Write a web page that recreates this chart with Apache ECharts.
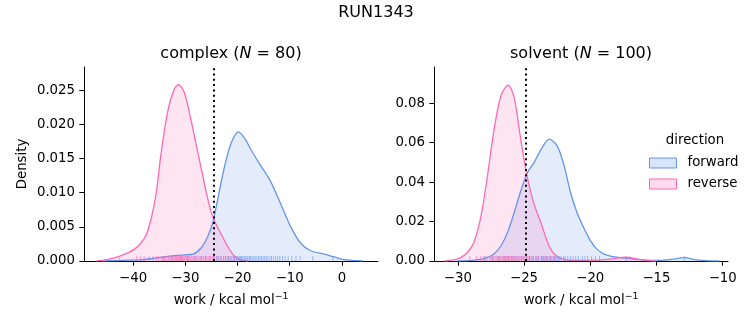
<!DOCTYPE html>
<html><head><meta charset="utf-8">
<script src="https://cdn.jsdelivr.net/npm/echarts@6/dist/echarts.min.js"></script>
<style>html,body{margin:0;padding:0;background:#fff}#c{width:753px;height:325px}</style>
</head><body><div id="c"></div>
<script>
// ---- data ----
const directions = ['forward', 'reverse'];
const complexTicksX = [-40, -30, -20, -10, 0];
const complexTicksY = [0, 0.005, 0.010, 0.015, 0.020, 0.025];
const solventTicksX = [-30, -25, -20, -15, -10];
const solventTicksY = [0, 0.02, 0.04, 0.06, 0.08];

const complexForwardKde = [[-46,0],[-42,0.0001],[-38,0.0002],[-36,0.0004],[-34,0.0006],[-32,0.0008],[-30,0.0009],[-28.5,0.0010],[-27,0.0019],[-25.7,0.0036],[-24.75,0.0056],[-23.8,0.0090],[-22.5,0.0138],[-21.2,0.0173],[-19.8,0.0189],[-18.5,0.0178],[-17.5,0.0164],[-15.6,0.0140],[-13.7,0.0117],[-11.7,0.0083],[-9.8,0.0050],[-7.9,0.0026],[-6,0.0015],[-3.4,0.0010],[-1.5,0.0006],[0.4,0.0002],[2,0.0001],[4,0]];
const complexReverseKde = [[-47,0],[-45,0.0002],[-43,0.0006],[-41,0.0012],[-39.8,0.0017],[-38.5,0.0026],[-37.5,0.0038],[-36.6,0.0060],[-35.6,0.0098],[-34.7,0.0154],[-33.4,0.0218],[-32.1,0.0252],[-31.3,0.0258],[-30.2,0.0247],[-28.9,0.0206],[-27.6,0.0159],[-26.3,0.0112],[-25.1,0.0073],[-24.1,0.0054],[-23.3,0.0042],[-22,0.0023],[-20.7,0.0008],[-19.5,0.0002],[-18,0]];
const solventForwardKde = [[-30,0],[-29,0.0003],[-28,0.0012],[-27.3,0.0034],[-26.75,0.0076],[-26.25,0.0144],[-25.75,0.0245],[-25.25,0.0355],[-24.75,0.0448],[-24.25,0.0499],[-23.7,0.0567],[-23.1,0.0618],[-22.5,0.0584],[-22,0.0490],[-21.5,0.0350],[-21,0.0245],[-20.5,0.0170],[-20,0.0105],[-19.5,0.0060],[-19,0.0036],[-18.3,0.0022],[-17.25,0.0014],[-16,0.0006],[-14.7,0.0003],[-13.8,0.0009],[-12.9,0.0017],[-12,0.0006],[-11,0.0001],[-10.3,0]];
const solventReverseKde = [[-31,0],[-30.3,0.0006],[-29.8,0.0017],[-29.3,0.0042],[-28.8,0.0093],[-28.3,0.0212],[-27.8,0.0415],[-27.3,0.0651],[-26.75,0.0838],[-26.2,0.0892],[-25.75,0.0829],[-25.25,0.0618],[-24.75,0.0423],[-24.25,0.0290],[-23.7,0.0190],[-23.2,0.0090],[-22.7,0.0034],[-22,0.0008],[-21,0.0003],[-19.5,0.0004],[-18.5,0.0010],[-17.3,0.0019],[-16.3,0.0008],[-15.5,0.0001],[-15,0]];

const complexForwardRug = [-34.2,-32.5,-30.8,-29.5,-28.2,-27.0,-26.1,-25.3,-24.6,-24.0,-23.6,-23.1,-22.7,-22.3,-22.0,-21.7,-21.4,-21.1,-20.8,-20.6,-20.3,-20.1,-19.9,-19.6,-19.4,-19.2,-19.0,-18.7,-18.5,-18.2,-18.0,-17.7,-17.5,-17.2,-16.9,-16.6,-16.3,-16.0,-15.7,-15.4,-15.1,-14.8,-14.5,-14.2,-13.8,-13.5,-13.1,-12.7,-12.3,-11.9,-11.4,-10.9,-10.3,-9.6,-8.8,-8.0,-5.6,-1.7];
const complexReverseRug = [-42.6,-39.3,-38.6,-37.9,-36.9,-36.2,-35.5,-35.1,-34.6,-34.3,-34.0,-33.7,-33.5,-33.2,-33.0,-32.8,-32.6,-32.4,-32.2,-32.0,-31.9,-31.7,-31.6,-31.4,-31.3,-31.1,-31.0,-30.9,-30.7,-30.6,-30.4,-30.3,-30.1,-30.0,-29.8,-29.6,-29.5,-29.3,-29.1,-28.9,-28.7,-28.5,-28.3,-28.0,-27.8,-27.6,-27.3,-27.0,-26.8,-26.5,-26.2,-25.9,-25.6,-25.2,-24.8,-24.4,-23.9,-23.3,-22.6,-21.7,-20.6];
const solventForwardRug = [-28.0,-27.4,-26.9,-26.5,-26.2,-25.9,-25.6,-25.4,-25.2,-25.0,-24.8,-24.6,-24.4,-24.3,-24.1,-24.0,-23.9,-23.7,-23.6,-23.5,-23.4,-23.3,-23.2,-23.1,-23.0,-22.9,-22.8,-22.7,-22.6,-22.5,-22.4,-22.3,-22.2,-22.0,-21.9,-21.7,-21.5,-21.3,-21.1,-20.9,-20.6,-20.4,-20.2,-19.9,-19.6,-19.3,-12.9];
const solventReverseRug = [-29.1,-28.6,-28.3,-28.1,-27.9,-27.8,-27.6,-27.5,-27.4,-27.3,-27.2,-27.1,-27.0,-26.9,-26.85,-26.8,-26.7,-26.6,-26.55,-26.5,-26.4,-26.35,-26.3,-26.2,-26.15,-26.1,-26.0,-25.95,-25.9,-25.8,-25.75,-25.7,-25.6,-25.5,-25.4,-25.3,-25.2,-25.1,-25.0,-24.9,-24.8,-24.7,-24.6,-24.5,-24.3,-24.1,-23.9,-23.7,-23.5,-23.3,-23.0,-22.7,-17.3];

const complexDeltaG = -24.5;
const solventDeltaG = -24.9;

// ---- styling ----
const FONT = 'DejaVu Sans';
const BLUE = '#6495ED', PINK = '#FF69B4';
const BLUE_FILL = 'rgba(100,149,237,0.25)', PINK_FILL = 'rgba(255,105,180,0.25)';
const minus = s => String(s).replace('-', '\u2212');

function xAxis(idx, min, max, ticks) {
  return {
    type: 'value', gridIndex: idx, min: min, max: max,
    axisLine: {show: true, onZero: false, lineStyle: {color: '#000', width: 1}},
    axisTick: {show: true, length: 4.7, customValues: ticks, lineStyle: {color: '#000', width: 1}},
    axisLabel: {customValues: ticks, formatter: v => minus(v), color: '#000', fontSize: 13.3, fontFamily: FONT, margin: 11},
    splitLine: {show: false},
    name: 'work / kcal mol{sup|\u22121}', nameLocation: 'middle', nameGap: 31,
    nameTextStyle: {color: '#000', fontSize: 13.3, fontFamily: FONT, lineHeight: 18,
      rich: {sup: {fontSize: 9.3, fontFamily: FONT, color: '#000', verticalAlign: 'top', lineHeight: 10}}}
  };
}
function yAxis(idx, max, ticks, digits, name) {
  return {
    type: 'value', gridIndex: idx, min: 0, max: max,
    axisLine: {show: true, onZero: false, lineStyle: {color: '#000', width: 1}},
    axisTick: {show: true, length: 4.7, customValues: ticks, lineStyle: {color: '#000', width: 1}},
    axisLabel: {customValues: ticks, formatter: v => v.toFixed(digits), color: '#000', fontSize: 13.3, fontFamily: FONT, margin: 9},
    splitLine: {show: false},
    name: name || '', nameLocation: 'middle', nameGap: 55,
    nameTextStyle: {color: '#000', fontSize: 13.3, fontFamily: FONT}
  };
}
function kde(name, data, idx, color, fill, markX) {
  const s = {
    type: 'line', name: name, data: data, xAxisIndex: idx, yAxisIndex: idx,
    smooth: 0.3, symbol: 'none', showSymbol: false, color: color,
    lineStyle: {color: color, width: 1.3}, areaStyle: {color: fill, origin: 'start'},
    animation: false, silent: true
  };
  if (markX !== undefined) {
    s.markLine = {silent: true, symbol: 'none', label: {show: false},
      lineStyle: {color: '#000', type: [2, 3.3], width: 2}, data: [{xAxis: markX}], z: 10};
  }
  return s;
}
function rug(name, values, idx, color) {
  return {
    type: 'scatter', name: name, data: values.map(v => [v, 0]), xAxisIndex: idx, yAxisIndex: idx,
    symbol: 'rect', symbolSize: [1, 5], symbolOffset: [0, -2.5],
    itemStyle: {color: color, opacity: 0.6}, animation: false, silent: true, z: 3
  };
}

const chart = echarts.init(document.getElementById('c'), null, {renderer: 'canvas'});
chart.setOption({
  backgroundColor: '#fff',
  animation: false,
  title: [
    {text: 'RUN1343', left: 376, top: 5, textAlign: 'center', padding: 0,
      textStyle: {fontSize: 16, fontWeight: 'normal', fontFamily: FONT, color: '#000'}},
    {text: 'complex ({i|N} = 80)', left: 231, top: 46, textAlign: 'center', padding: 0,
      textStyle: {fontSize: 16, fontWeight: 'normal', fontFamily: FONT, color: '#000',
        rich: {i: {fontSize: 16, fontStyle: 'italic', fontFamily: FONT, color: '#000'}}}},
    {text: 'solvent ({i|N} = 100)', left: 581, top: 46, textAlign: 'center', padding: 0,
      textStyle: {fontSize: 16, fontWeight: 'normal', fontFamily: FONT, color: '#000',
        rich: {i: {fontSize: 16, fontStyle: 'italic', fontFamily: FONT, color: '#000'}}}},
    {text: 'direction', left: 695, top: 134, textAlign: 'center', padding: 0,
      textStyle: {fontSize: 13.3, fontWeight: 'normal', fontFamily: FONT, color: '#000'}}
  ],
  legend: {
    orient: 'vertical', left: 649, top: 156, padding: 0, itemWidth: 27, itemHeight: 10, itemGap: 7,
    selectedMode: false,
    textStyle: {fontSize: 13.3, fontFamily: FONT, color: '#000', padding: [0, 0, 0, 6], lineHeight: 14},
    data: [
      {name: directions[0], icon: 'rect', itemStyle: {color: BLUE_FILL, borderColor: BLUE, borderWidth: 1}},
      {name: directions[1], icon: 'rect', itemStyle: {color: PINK_FILL, borderColor: PINK, borderWidth: 1}}
    ]
  },
  grid: [
    {left: 84, top: 67, width: 294, height: 194},
    {left: 434, top: 67, width: 294, height: 194}
  ],
  xAxis: [xAxis(0, -49.4, 6.9, complexTicksX), xAxis(1, -31.8, -9.6, solventTicksX)],
  yAxis: [yAxis(0, 0.0284, complexTicksY, 3, 'Density'), yAxis(1, 0.0984, solventTicksY, 2)],
  series: [
    kde(directions[0], complexForwardKde, 0, BLUE, BLUE_FILL, complexDeltaG),
    kde(directions[1], complexReverseKde, 0, PINK, PINK_FILL),
    rug('complex forward rug', complexForwardRug, 0, BLUE),
    rug('complex reverse rug', complexReverseRug, 0, PINK),
    kde(directions[0], solventForwardKde, 1, BLUE, BLUE_FILL, solventDeltaG),
    kde(directions[1], solventReverseKde, 1, PINK, PINK_FILL),
    rug('solvent forward rug', solventForwardRug, 1, BLUE),
    rug('solvent reverse rug', solventReverseRug, 1, PINK)
  ]
});
</script>
</body></html>
